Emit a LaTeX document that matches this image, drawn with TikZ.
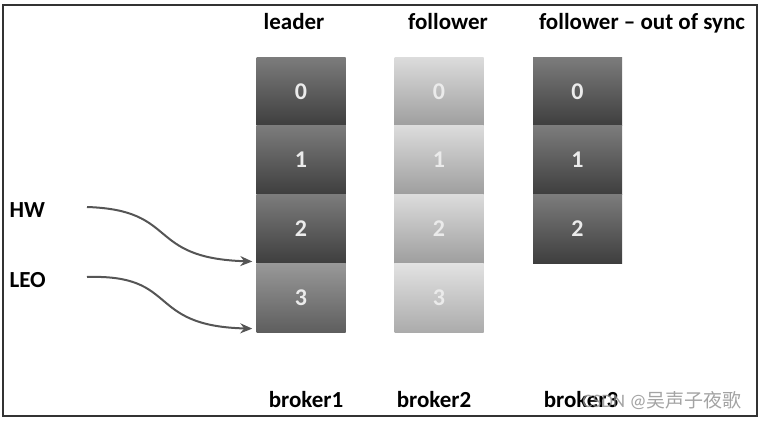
\documentclass[tikz,border=0pt]{standalone}
\usepackage{fontspec}
\setmainfont{Carlito}
\newfontfamily\cjkfont{Noto Sans CJK SC}
\usetikzlibrary{positioning,arrows.meta}
\definecolor{leadtop}{HTML}{7C7C7C}
\definecolor{leadbot}{HTML}{3E3E3E}
\definecolor{newtop}{HTML}{989898}
\definecolor{newbot}{HTML}{5E5E5E}
\definecolor{folltop}{HTML}{DCDCDC}
\definecolor{follbot}{HTML}{9E9E9E}
\definecolor{follnewtop}{HTML}{E2E2E2}
\definecolor{follnewbot}{HTML}{ABABAB}
\definecolor{ptrgray}{HTML}{555555}
\definecolor{framegray}{HTML}{333333}

\begin{document}
\begin{tikzpicture}[x=1pt,y=1pt,
  blk/.style={minimum width=89pt, minimum height=68.75pt, inner sep=0pt,
    font=\fontsize{24}{24}\selectfont\bfseries, text=white!92!black},
  leadblk/.style={blk, top color=leadtop, bottom color=leadbot},
  leadnew/.style={blk, top color=newtop, bottom color=newbot},
  follblk/.style={blk, top color=folltop, bottom color=follbot},
  follnew/.style={blk, top color=follnewtop, bottom color=follnewbot},
  head/.style={font=\fontsize{23}{23}\selectfont\bfseries, anchor=base},
  side/.style={font=\fontsize{23}{23}\selectfont\bfseries, anchor=base west},
  ptr/.style={line width=2pt, draw=ptrgray, -{Stealth[length=12pt,width=10pt]}}]
  \useasboundingbox (0,0) rectangle (762,424);
  \draw[line width=2pt, framegray] (3,8) rectangle (757,419);

  % replicas of the log
  \foreach \n in {0,1,2} \node[leadblk] (lead\n) at (301,332.6-68.75*\n) {\n};
  \node[leadnew, below=0pt of lead2] (lead3) {3};
  \foreach \n in {0,1,2} \node[follblk] (foll\n) at (439,332.6-68.75*\n) {\n};
  \node[follnew, below=0pt of foll2] (foll3) {3};
  \foreach \n in {0,1,2} \node[leadblk] (sync\n) at (577.5,332.6-68.75*\n) {\n};

  \node[head] (leadhead) at (294,394) {leader};
  \node[head] (follhead) at (448,394) {follower};
  \node[head] (synchead) at (642,394) {follower -- out of sync};
  \node[head] (leadbrk) at (306,17) {broker1};
  \node[head] (follbrk) at (434,17) {broker2};
  \node[head] (syncbrk) at (581,17) {broker3};

  \node[side] (hw) at (6,207) {HW};
  \node[side] (leo) at (6,137) {LEO};
  \coordinate (hwfrom) at (87,217);
  \coordinate (leofrom) at (87,147);
  \draw[ptr] (hwfrom) .. controls (180,214) and (145,166) .. ([shift={(-4pt,2pt)}]lead2.south west);
  \draw[ptr] (leofrom) .. controls (180,150) and (145,98) .. ([shift={(-4pt,4pt)}]lead3.south west);

  \node[anchor=base, text=black!45, opacity=0.8, font=\fontsize{19}{19}\selectfont] (mark) at (662,17) {CSDN @{\cjkfont 吴声子夜歌}};
\end{tikzpicture}
\end{document}
